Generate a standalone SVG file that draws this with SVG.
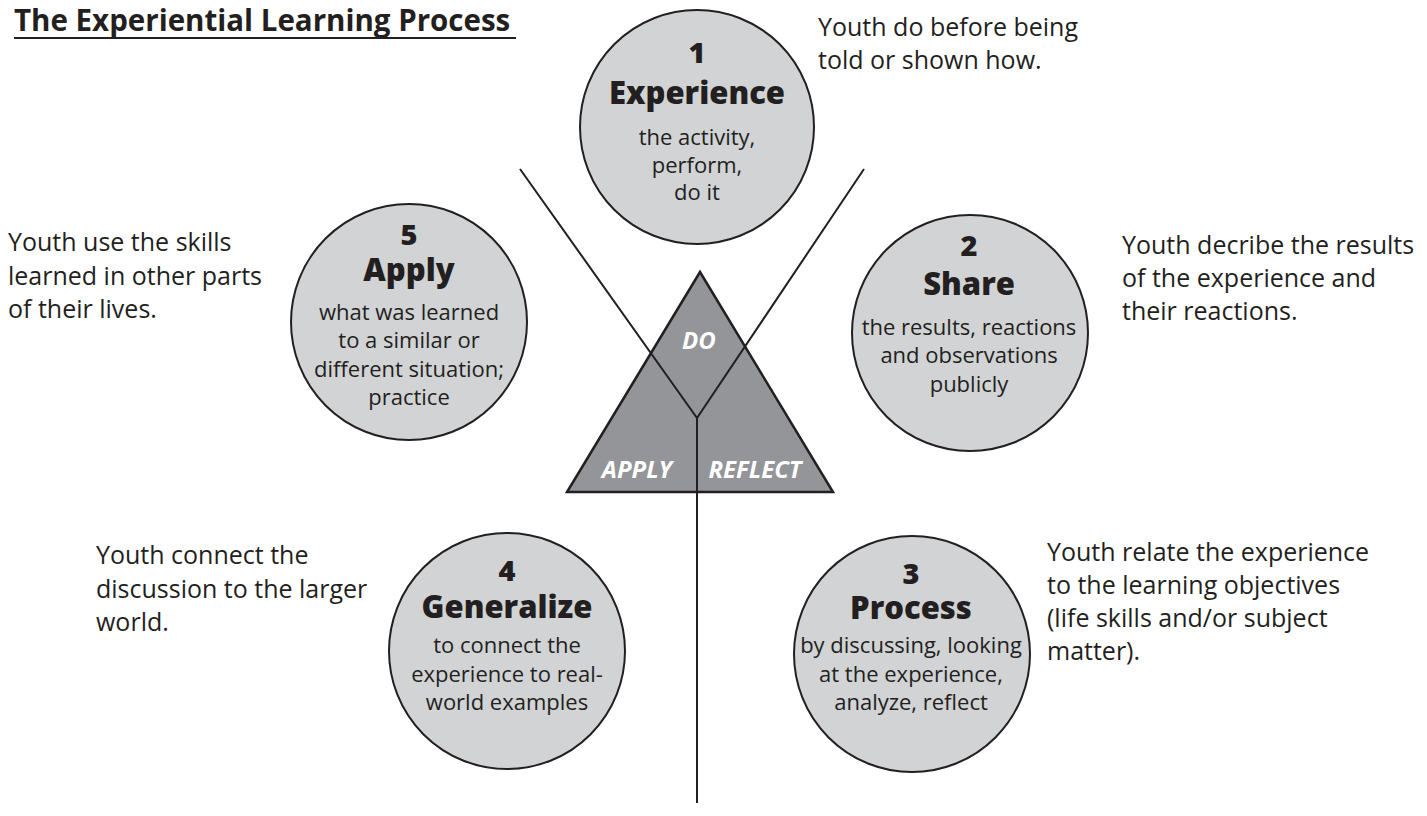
<svg xmlns="http://www.w3.org/2000/svg" width="1427" height="816" viewBox="0 0 1427 816">
<style>
.circ{fill:#d1d3d4;stroke:#231f20;stroke-width:2}
.num,.head{font-family:"Open Sans","Noto Sans",sans-serif;font-weight:800;fill:#231f20;text-anchor:middle}
.num{font-size:29px}
.head{font-size:31px}
.body{font-family:"Open Sans","Noto Sans",sans-serif;font-size:22px;fill:#231f20;text-anchor:middle}
.side{font-family:"Open Sans","Noto Sans",sans-serif;font-size:25px;fill:#231f20}
.tri{font-family:"Open Sans","Noto Sans",sans-serif;font-size:24px;font-weight:700;font-style:italic;fill:#ffffff;text-anchor:middle}
.ln{stroke:#231f20;stroke-width:2;fill:none}
</style>
<rect width="1427" height="816" fill="#ffffff"/>
<g id="title">
<text x="14" y="31" font-family="'Open Sans','Noto Sans',sans-serif" font-size="29.5" font-weight="700" fill="#231f20">The Experiential Learning Process</text>
<line x1="14" y1="38" x2="516" y2="38" stroke="#231f20" stroke-width="2"/>
</g>
<g id="triangle">
<polygon points="700,272 567,492 833,492" fill="#939598" stroke="#231f20" stroke-width="2.5" stroke-linejoin="miter"/>
<text class="tri" x="699" y="349">DO</text>
<text class="tri" x="637" y="478">APPLY</text>
<text class="tri" x="755" y="478">REFLECT</text>
</g>
<g id="connectors">
<polyline class="ln" points="520,169 697,418 864,169"/>
<line class="ln" x1="697" y1="418" x2="697" y2="803"/>
</g>
<g id="node1">
<circle class="circ" cx="697" cy="127" r="117"/>
<text class="num" x="697" y="63">1</text>
<text class="head" x="697" y="104">Experience</text>
<text class="body" x="697" y="145">the activity,</text>
<text class="body" x="697" y="173">perform,</text>
<text class="body" x="697" y="200">do it</text>
</g>
<g id="node2">
<circle class="circ" cx="970" cy="333" r="118"/>
<text class="num" x="969" y="256">2</text>
<text class="head" x="969" y="295">Share</text>
<text class="body" x="969" y="335">the results, reactions</text>
<text class="body" x="969" y="363">and observations</text>
<text class="body" x="969" y="392">publicly</text>
</g>
<g id="node3">
<circle class="circ" cx="912" cy="654" r="118"/>
<text class="num" x="911" y="584">3</text>
<text class="head" x="911" y="619">Process</text>
<text class="body" x="911" y="653">by discussing, looking</text>
<text class="body" x="911" y="682">at the experience,</text>
<text class="body" x="911" y="710">analyze, reflect</text>
</g>
<g id="node4">
<circle class="circ" cx="507" cy="651" r="118"/>
<text class="num" x="507" y="581">4</text>
<text class="head" x="507" y="618">Generalize</text>
<text class="body" x="507" y="653">to connect the</text>
<text class="body" x="507" y="682">experience to real-</text>
<text class="body" x="507" y="710">world examples</text>
</g>
<g id="node5">
<circle class="circ" cx="409" cy="322" r="118"/>
<text class="num" x="409" y="245">5</text>
<text class="head" x="409" y="281">Apply</text>
<text class="body" x="409" y="320">what was learned</text>
<text class="body" x="409" y="348">to a similar or</text>
<text class="body" x="409" y="377">different situation;</text>
<text class="body" x="409" y="405">practice</text>
</g>
<g id="note1">
<text class="side" x="818" y="36">Youth do before being</text>
<text class="side" x="818" y="69">told or shown how.</text>
</g>
<g id="note2">
<text class="side" x="1122" y="254">Youth decribe the results</text>
<text class="side" x="1122" y="287">of the experience and</text>
<text class="side" x="1122" y="320">their reactions.</text>
</g>
<g id="note3">
<text class="side" x="1047" y="561">Youth relate the experience</text>
<text class="side" x="1047" y="594">to the learning objectives</text>
<text class="side" x="1047" y="627">(life skills and/or subject</text>
<text class="side" x="1047" y="660">matter).</text>
</g>
<g id="note4">
<text class="side" x="96" y="564">Youth connect the</text>
<text class="side" x="96" y="598">discussion to the larger</text>
<text class="side" x="96" y="631">world.</text>
</g>
<g id="note5">
<text class="side" x="8" y="251">Youth use the skills</text>
<text class="side" x="8" y="285">learned in other parts</text>
<text class="side" x="8" y="318">of their lives.</text>
</g>
</svg>
